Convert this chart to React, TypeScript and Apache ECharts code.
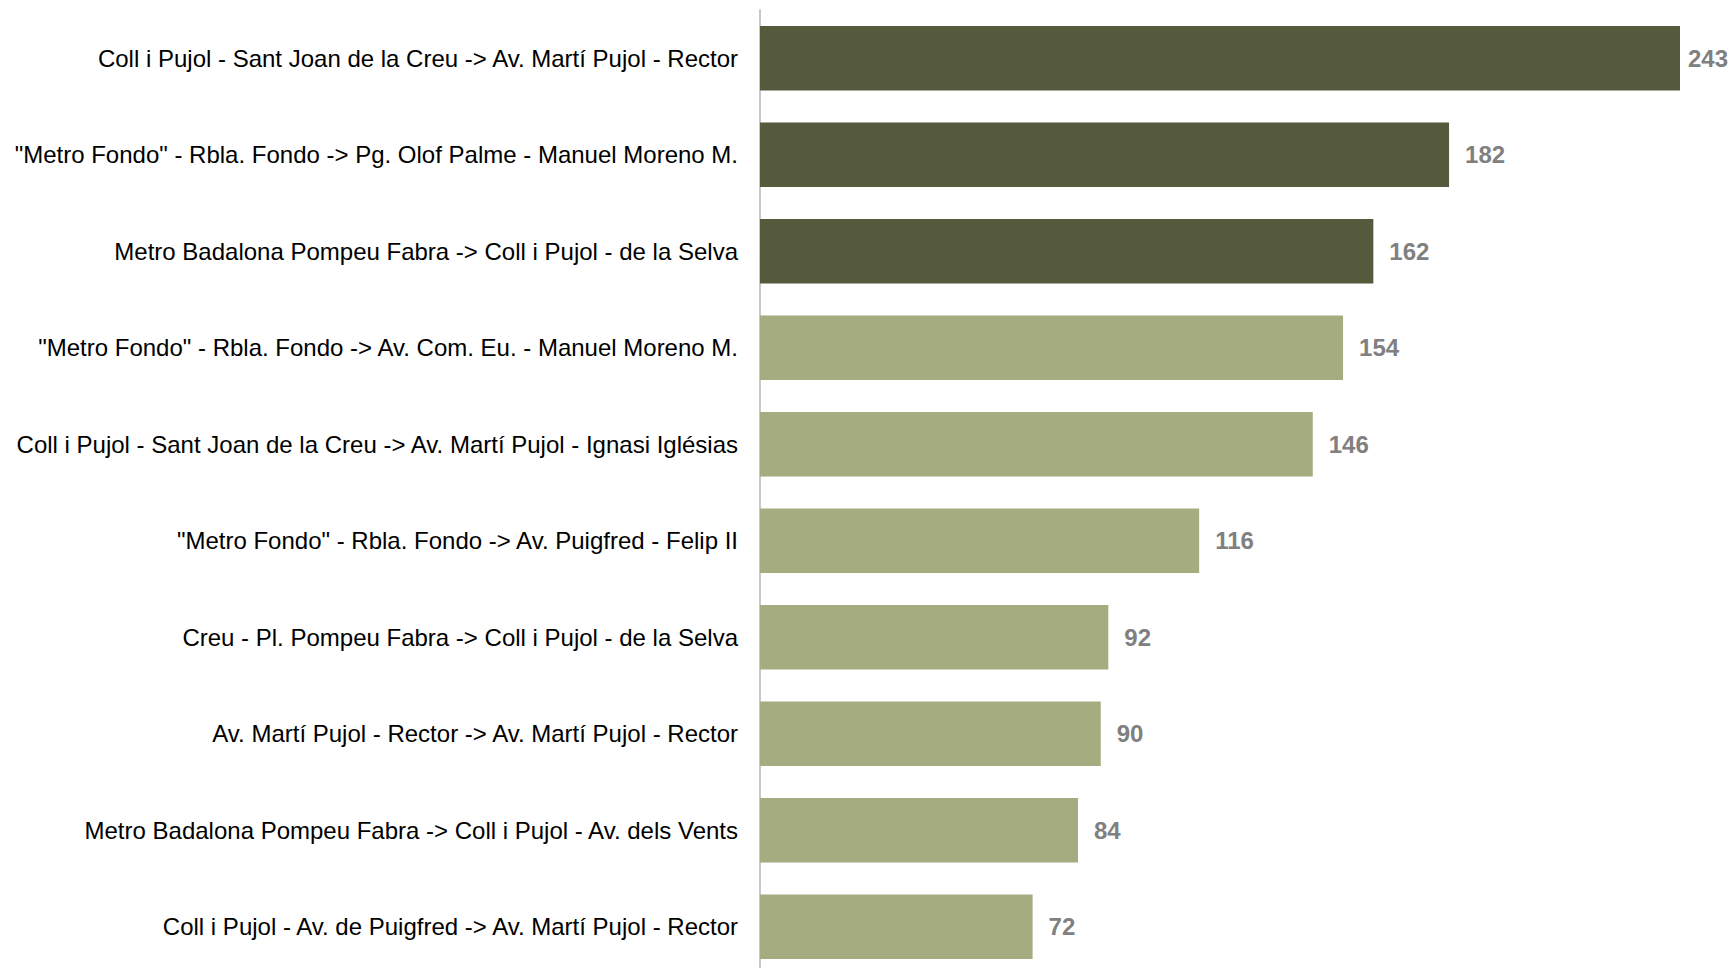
import React, { useEffect, useRef } from "react";
import * as echarts from "echarts";

const categories: string[] = [
  "Coll i Pujol - Sant Joan de la Creu -> Av. Martí Pujol - Rector",
  "\"Metro Fondo\" - Rbla. Fondo -> Pg. Olof Palme - Manuel Moreno M.",
  "Metro Badalona Pompeu Fabra -> Coll i Pujol - de la Selva",
  "\"Metro Fondo\" - Rbla. Fondo -> Av. Com. Eu. - Manuel Moreno M.",
  "Coll i Pujol - Sant Joan de la Creu -> Av. Martí Pujol - Ignasi Iglésias",
  "\"Metro Fondo\" - Rbla. Fondo -> Av. Puigfred - Felip II",
  "Creu - Pl. Pompeu Fabra -> Coll i Pujol - de la Selva",
  "Av. Martí Pujol - Rector -> Av. Martí Pujol - Rector",
  "Metro Badalona Pompeu Fabra -> Coll i Pujol - Av. dels Vents",
  "Coll i Pujol - Av. de Puigfred -> Av. Martí Pujol - Rector",
];

const values: number[] = [243, 182, 162, 154, 146, 116, 92, 90, 84, 72];

// top three routes highlighted
const highlighted: boolean[] = [true, true, true, false, false, false, false, false, false, false];

const DARK = "#555a3c";
const LIGHT = "#a4ac80";

export default function App() {
  const ref = useRef<HTMLDivElement>(null);

  useEffect(() => {
    if (!ref.current) return;
    const chart = echarts.init(ref.current, undefined, { renderer: "svg" });
    const pxPerUnit = 920 / 243;
    const xMax = 250;
    chart.setOption({
      animation: false,
      backgroundColor: "#ffffff",
      grid: {
        left: 760,
        top: 10,
        width: xMax * pxPerUnit,
        height: 965,
        containLabel: false,
      },
      xAxis: {
        type: "value",
        min: 0,
        max: xMax,
        show: false,
      },
      yAxis: {
        type: "category",
        data: categories,
        inverse: true,
        axisLine: { show: true, lineStyle: { color: "#c8c8c8", width: 2 } },
        axisTick: { show: false },
        splitLine: { show: false },
        axisLabel: {
          color: "#000000",
          fontSize: 24,
          fontFamily: "Liberation Sans, Arial, sans-serif",
          margin: 22,
        },
      },
      series: [
        {
          type: "bar",
          barCategoryGap: "33%",
          data: values.map((v, i) => ({
            value: v,
            itemStyle: { color: highlighted[i] ? DARK : LIGHT },
            label: i === 0 ? { distance: 8 } : undefined,
          })),
          label: {
            show: true,
            position: "right",
            distance: 16,
            color: "#808080",
            fontWeight: "bold",
            fontSize: 24,
            fontFamily: "Liberation Sans, Arial, sans-serif",
          },
        },
      ],
    });
    return () => chart.dispose();
  }, []);

  return (
    <div
      style={{
        position: "absolute",
        left: 0,
        top: 0,
        width: 1732,
        height: 968,
        overflow: "hidden",
        background: "#ffffff",
      }}
    >
      <div ref={ref} style={{ width: 1732, height: 980 }} />
    </div>
  );
}
